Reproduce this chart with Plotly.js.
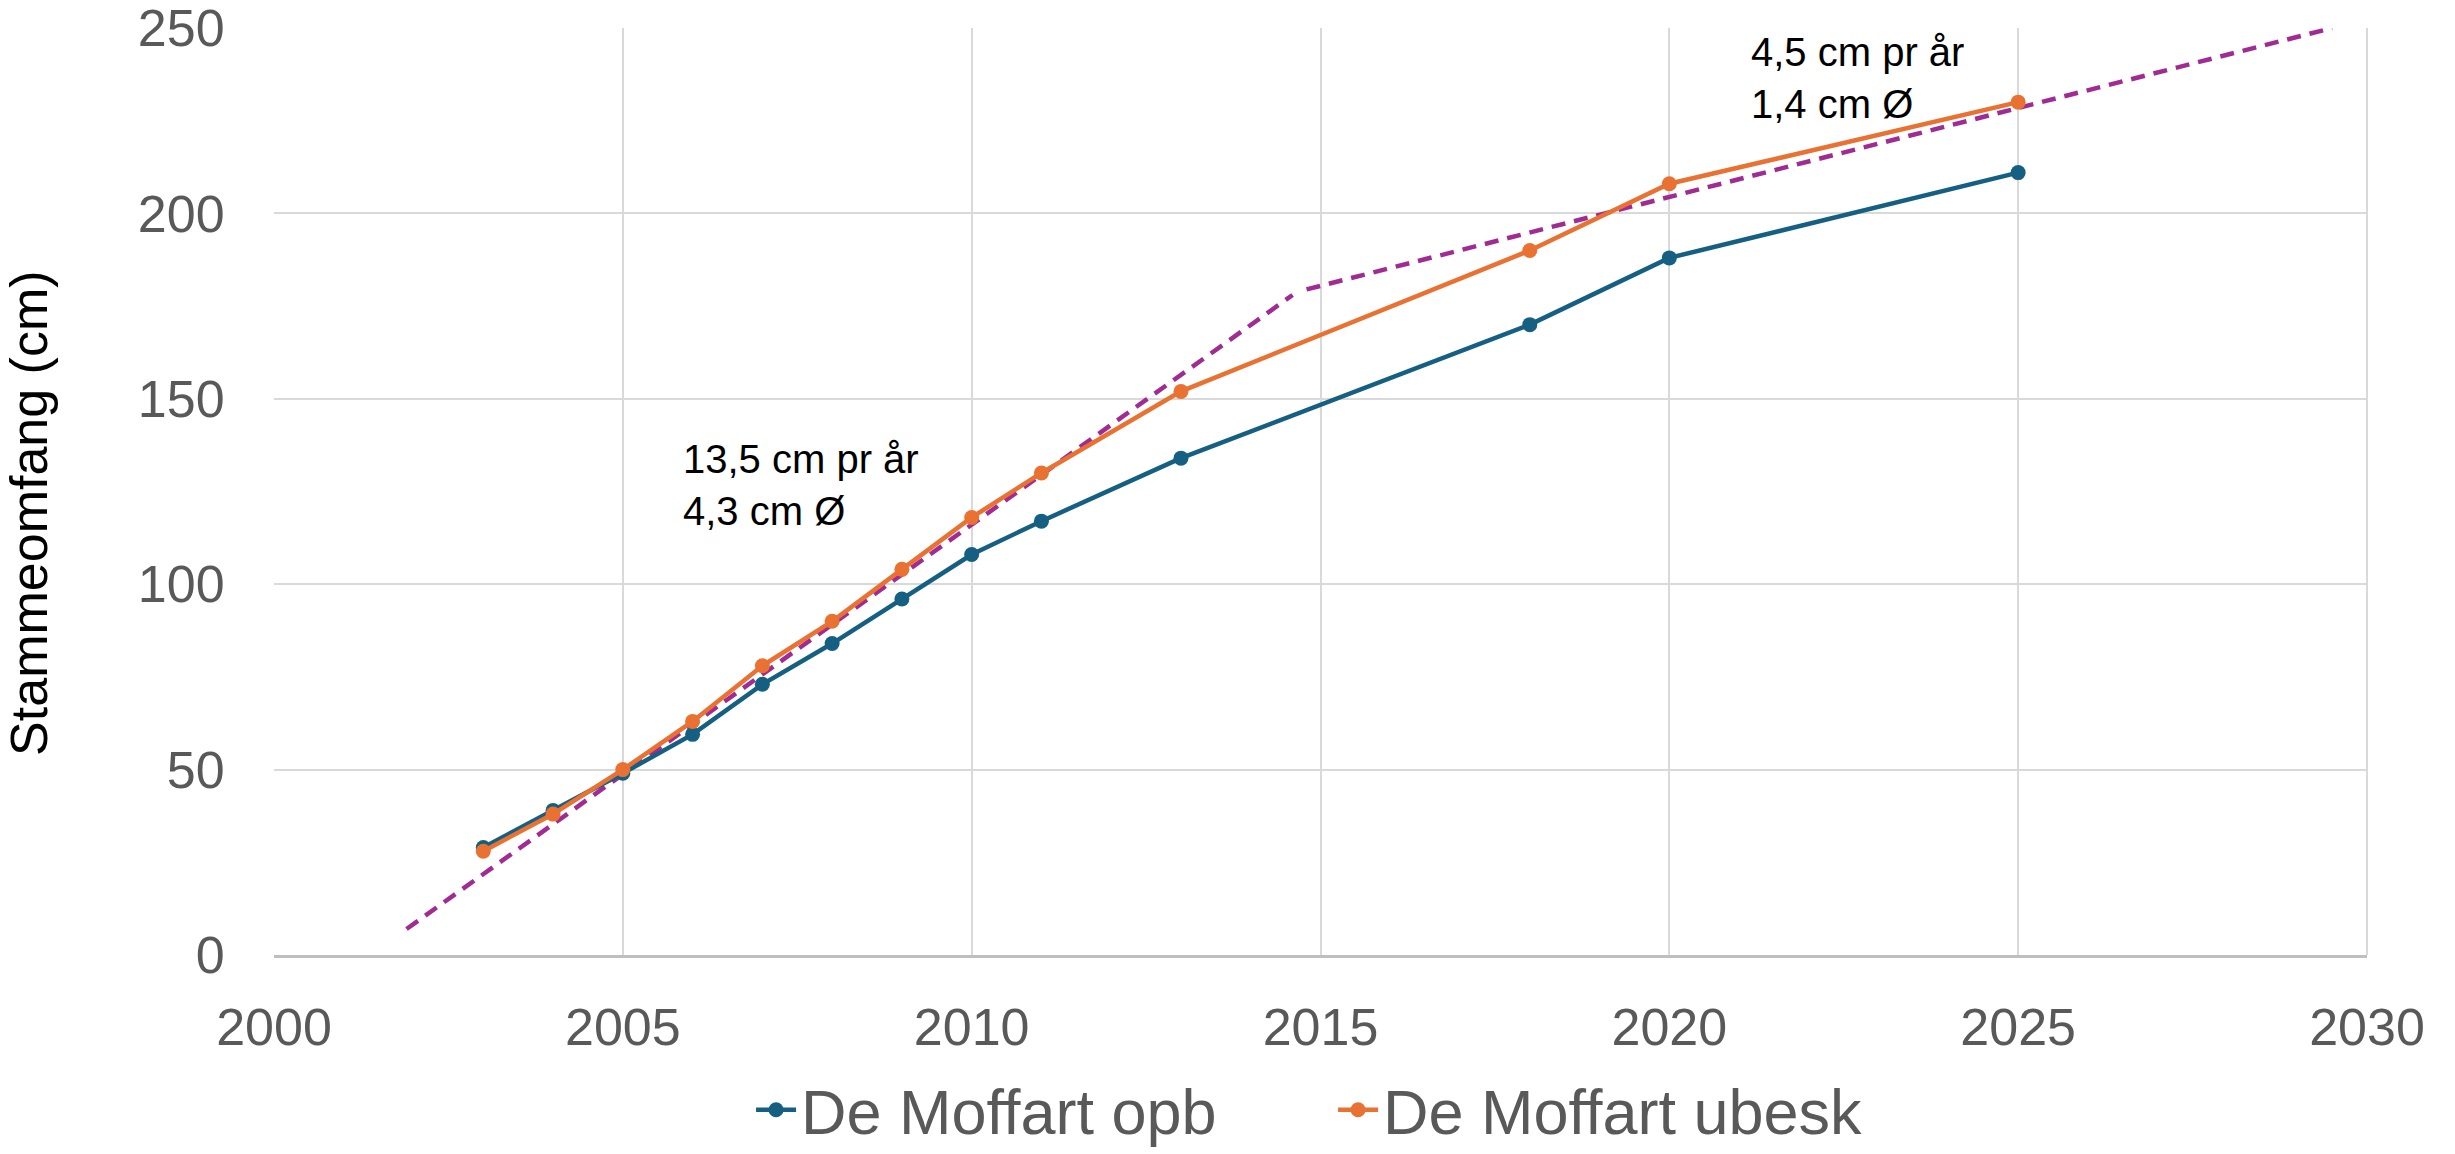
<!DOCTYPE html>
<html>
<head>
<meta charset="utf-8">
<script src="https://cdn.plot.ly/plotly-3.0.1.min.js"></script>
<style>html,body{margin:0;padding:0;background:#fff;}#chart{width:2455px;height:1154px;}</style>
</head>
<body>
<div id="chart"></div>
<script>
// Data
const years = [2003, 2004, 2005, 2006, 2007, 2008, 2009, 2010, 2011, 2013, 2018, 2020, 2025];
const opbValues = [29, 39, 49, 59.5, 73, 84, 96, 108, 117, 134, 170, 188, 211];
const ubeskValues = [28, 38, 50, 63, 78, 90, 104, 118, 130, 152, 190, 208, 230];
const trend1X = [2001.9, 2014.6];
const trend1Y = [7, 178];
const trend2X = [2014.8, 2029.5];
const trend2Y = [179.5, 250];
const seriesNames = ["De Moffart opb", "De Moffart ubesk"];
const xTicks = [2000, 2005, 2010, 2015, 2020, 2025, 2030];
const yTicks = [0, 50, 100, 150, 200, 250];
const note1 = "13,5 cm pr år<br>4,3 cm Ø";
const note2 = "4,5 cm pr år<br>1,4 cm Ø";
const yTitle = "Stammeomfang (cm)";

const FONT = "Liberation Sans, Arial, sans-serif";
const blue = "#156082", orange = "#E97132", purple = "#A02B93";

const traces = [
  {x: trend1X, y: trend1Y, mode: "lines", showlegend: false,
   line: {color: purple, width: 4.5, dash: "14px,9px"}, hoverinfo: "skip"},
  {x: trend2X, y: trend2Y, mode: "lines", showlegend: false,
   line: {color: purple, width: 4.5, dash: "14px,9px"}, hoverinfo: "skip"},
  {x: years, y: opbValues, name: seriesNames[0], mode: "lines+markers",
   line: {color: blue, width: 4.5}, marker: {color: blue, size: 15}},
  {x: years, y: ubeskValues, name: seriesNames[1], mode: "lines+markers",
   line: {color: orange, width: 4.5}, marker: {color: orange, size: 15}}
];

const layout = {
  width: 2455, height: 1154,
  margin: {l: 274, r: 88, t: 28, b: 199, autoexpand: false},
  paper_bgcolor: "#fff", plot_bgcolor: "#fff",
  font: {family: FONT, color: "#595959"},
  xaxis: {
    range: [2000, 2030], tickvals: xTicks, ticktext: xTicks.map(String),
    showgrid: true, gridcolor: "#d9d9d9", gridwidth: 2,
    zeroline: false, showline: true, linecolor: "#bfbfbf", linewidth: 3,
    mirror: false, ticks: "outside", ticklen: 25, tickcolor: "rgba(0,0,0,0)",
    ticklabeloverflow: "allow",
    tickfont: {size: 52, color: "#595959", family: FONT}
  },
  yaxis: {
    range: [0, 250], tickvals: yTicks, ticktext: yTicks.map(String),
    showgrid: true, gridcolor: "#d9d9d9", gridwidth: 2,
    zeroline: false, showline: false,
    ticks: "outside", ticklen: 38, tickcolor: "rgba(0,0,0,0)",
    ticklabeloverflow: "allow",
    tickfont: {size: 52, color: "#595959", family: FONT},
    title: {text: yTitle + "<span style='color:rgba(0,0,0,0)'>...</span>",
            font: {size: 52, color: "#000", family: FONT}, standoff: 74}
  },
  shapes: [
    {type: "line", xref: "paper", yref: "paper", x0: 1, x1: 1, y0: 0, y1: 1,
     line: {color: "#d9d9d9", width: 2}}
  ],
  legend: {orientation: "h", x: 0.506, xanchor: "center", y: -0.167, yanchor: "middle",
    font: {size: 63, color: "#595959", family: FONT}, itemwidth: 40,
    entrywidth: 527, entrywidthmode: "pixels"},
  annotations: [
    {x: 2005.83, y: 126.7, xref: "x", yref: "y", text: note1, showarrow: false,
     xanchor: "left", yanchor: "middle", align: "left",
     font: {size: 40, color: "#000", family: FONT}},
    {x: 2021.14, y: 236.6, xref: "x", yref: "y", text: note2, showarrow: false,
     xanchor: "left", yanchor: "middle", align: "left",
     font: {size: 40, color: "#000", family: FONT}}
  ],
  showlegend: true
};

Plotly.newPlot("chart", traces, layout, {staticPlot: true, displayModeBar: false});
</script>
</body>
</html>
